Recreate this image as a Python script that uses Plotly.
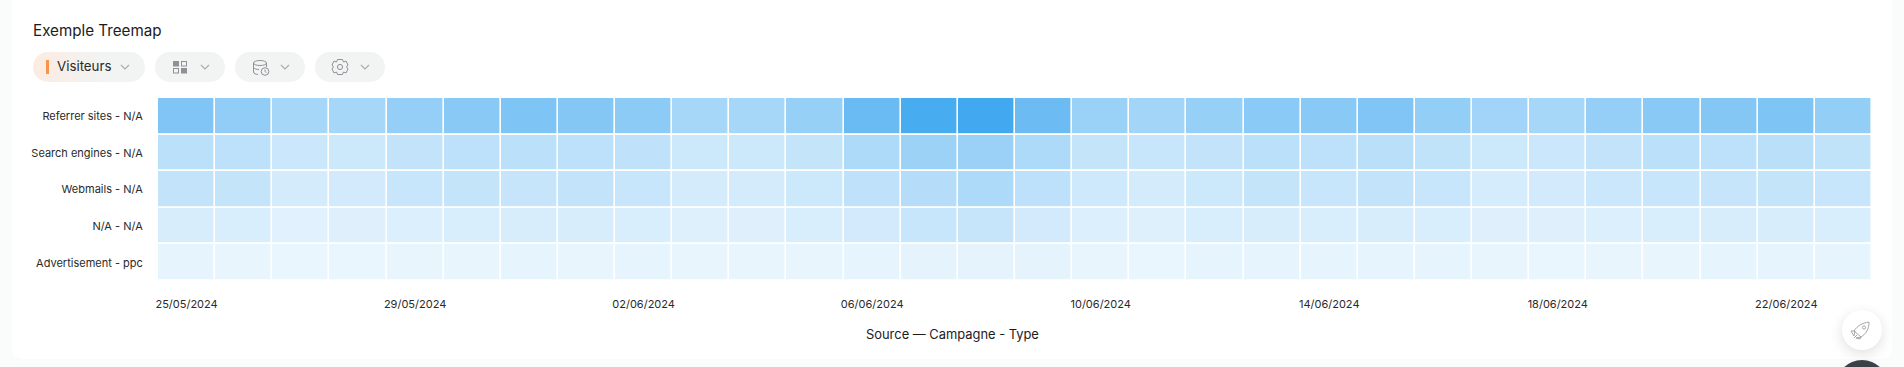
import base64
import plotly.graph_objects as go

days = ["25/05/2024","26/05/2024","27/05/2024","28/05/2024","29/05/2024","30/05/2024","31/05/2024","01/06/2024","02/06/2024","03/06/2024",
        "04/06/2024","05/06/2024","06/06/2024","07/06/2024","08/06/2024","09/06/2024","10/06/2024","11/06/2024","12/06/2024","13/06/2024",
        "14/06/2024","15/06/2024","16/06/2024","17/06/2024","18/06/2024","19/06/2024","20/06/2024","21/06/2024","22/06/2024","23/06/2024"]
tick_days = days[0::4]
sources = ["Referrer sites - N/A", "Search engines - N/A", "Webmails - N/A", "N/A - N/A", "Advertisement - ppc"]

referrer = [.67,.58,.47,.47,.56,.63,.68,.65,.61,.47,.47,.55,.79,.97,1.0,.78,.54,.49,.55,.62,.63,.67,.57,.50,.47,.56,.63,.65,.68,.57]
search   = [.36,.35,.28,.27,.32,.35,.36,.35,.34,.27,.27,.31,.43,.52,.53,.43,.31,.29,.32,.36,.35,.37,.33,.27,.28,.32,.36,.35,.37,.33]
webmails = [.32,.31,.23,.24,.29,.31,.30,.32,.29,.23,.23,.27,.34,.39,.43,.35,.26,.23,.27,.31,.29,.32,.29,.22,.24,.28,.29,.30,.31,.29]
na       = [.21,.20,.16,.17,.19,.20,.21,.21,.20,.18,.17,.20,.24,.29,.30,.24,.19,.18,.20,.21,.20,.21,.20,.17,.17,.19,.20,.21,.21,.20]
ads      = [.13,.12,.11,.11,.12,.12,.13,.12,.13,.12,.12,.12,.13,.14,.14,.14,.12,.11,.13,.13,.13,.13,.13,.12,.11,.12,.12,.13,.13,.13]

W, H = 1904, 367
L, R, T, B = 158, 1872, 98, 281
FONT = "Inter, Noto Sans, sans-serif"

def chevron(cx, cy=67):
    return f'<path d="M{cx-4} {cy-2}L{cx} {cy+2}L{cx+4} {cy-2}" fill="none" stroke="#a9adb0" stroke-width="1.2"/>'

svg = f'''<svg xmlns="http://www.w3.org/2000/svg" width="{W}" height="{H}" viewBox="0 0 {W} {H}">
<defs>
<linearGradient id="g" x1="0" x2="1" y1="0" y2="0"><stop offset="0" stop-color="#fdebe0"/><stop offset="0.6" stop-color="#f2f3f3"/></linearGradient>
<filter id="s" x="-50%" y="-50%" width="200%" height="200%"><feGaussianBlur stdDeviation="7"/></filter>
</defs>
<rect width="{W}" height="{H}" fill="#fafbfb"/>
<rect x="12" y="-10" width="1880" height="369" rx="10" fill="#ffffff"/>
<rect x="33" y="52" width="112" height="30" rx="15" fill="url(#g)"/>
<rect x="46" y="60" width="3" height="14" fill="#f9924a" rx="0.5"/>
{chevron(125)}
<rect x="155" y="52" width="70" height="30" rx="15" fill="#f2f3f3"/>
<rect x="173" y="61" width="6" height="5.5" fill="#8e9296"/><rect x="181.5" y="61.5" width="5" height="4.5" fill="none" stroke="#8e9296"/>
<rect x="173.5" y="68.5" width="5" height="4.5" fill="none" stroke="#8e9296"/><rect x="181" y="68" width="6" height="5.5" fill="#8e9296"/>
{chevron(205)}
<rect x="235" y="52" width="70" height="30" rx="15" fill="#f2f3f3"/>
<g fill="none" stroke="#8e9296" stroke-width="1"><ellipse cx="260" cy="63" rx="6.5" ry="2.5"/><path d="M253.5 63V72C253.5 73.5 256 74.5 258 74.5M266.5 63V67M253.5 67.5C254.5 69 257 69.5 259 69.5"/><circle cx="265" cy="71.5" r="3.8" fill="#f2f3f3"/><path d="M265 69.5V71.5L266.5 72.5"/></g>
{chevron(285)}
<rect x="315" y="52" width="70" height="30" rx="15" fill="#f2f3f3"/>
<g fill="none" stroke="#8e9296" stroke-width="1"><path d="M337.5 59.5L342.5 59.5L343.5 62L346 61L348 65L346.5 67L348 69L346 73L343.5 72L342.5 74.5L337.5 74.5L336.5 72L334 73L332 69L333.5 67L332 65L334 61L336.5 62Z"/><circle cx="340" cy="67" r="2.6"/></g>
{chevron(365)}
<circle cx="1862" cy="334" r="20" fill="#000" opacity="0.12" filter="url(#s)"/>
<circle cx="1862" cy="330" r="20" fill="#ffffff"/>
<g fill="none" stroke="#9a9da0" stroke-width="0.9"><path d="M1854 331C1857 326 1862 323 1869 322C1869 329 1866 334 1861 337Z"/><circle cx="1864" cy="327.5" r="1.6"/><path d="M1855 331L1851 331L1854 336ZM1861 337L1860 339L1856 338ZM1857 335L1854 338"/></g>
<circle cx="1862" cy="386" r="26" fill="#3c4148"/>
</svg>'''
uri = "data:image/svg+xml;base64," + base64.b64encode(svg.encode()).decode()

def px(v): return (v - L) / (R - L)
def py(v): return (B - v) / (B - T)

fig = go.Figure(go.Heatmap(
    x=days, y=sources, z=[referrer, search, webmails, na, ads],
    zmin=0, zmax=1, colorscale=[[0, "#ffffff"], [1, "#42a9f0"]],
    xgap=1.6, ygap=1.8, showscale=False,
))

def note(text, x, y, size, color="#1c1c1c", anchor="left"):
    fig.add_annotation(text=text, xref="paper", yref="paper", x=px(x), y=py(y), xanchor=anchor, yanchor="middle",
                       showarrow=False, font=dict(family=FONT, size=size, color=color))

note("Exemple Treemap", 31, 30, 15.2)
note("Visiteurs", 55, 66.5, 13.3, "#2a2a2a")
note("Source — Campagne - Type", 952, 334, 12.9, anchor="center")

fig.update_layout(
    width=W, height=H, autosize=False,
    margin=dict(l=L, r=W - R, t=T, b=H - B, pad=0),
    paper_bgcolor="rgba(0,0,0,0)", plot_bgcolor="#ffffff",
    font=dict(family=FONT, size=11, color="#2a2a2a"),
    images=[dict(source=uri, xref="paper", yref="paper", x=px(0), y=py(0), sizex=W / (R - L), sizey=H / (B - T),
                 xanchor="left", yanchor="top", sizing="stretch", layer="below")],
    xaxis=dict(type="category", tickmode="array", tickvals=tick_days, ticktext=tick_days, showgrid=False, zeroline=False,
               ticks="outside", ticklen=13, tickcolor="rgba(0,0,0,0)", tickangle=0, showline=False),
    yaxis=dict(type="category", autorange="reversed", showgrid=False, zeroline=False,
               ticks="outside", ticklen=12, tickcolor="rgba(0,0,0,0)", showline=False),
)
fig.write_html("out.html", config=dict(displayModeBar=False),
               post_script="document.body.style.margin='0';document.body.style.overflow='hidden';document.body.style.background='#fafbfb';")
